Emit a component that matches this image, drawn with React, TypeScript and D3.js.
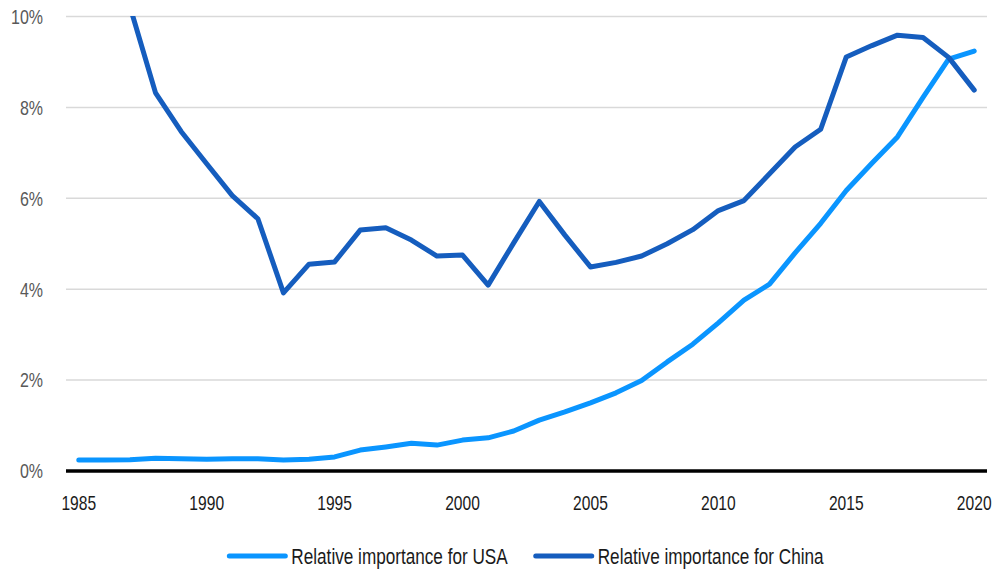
import React, { useEffect, useRef } from "react";
import * as d3 from "d3";

// Years on the horizontal axis
const years: number[] = [
  1985, 1986, 1987, 1988, 1989, 1990, 1991, 1992, 1993, 1994, 1995, 1996,
  1997, 1998, 1999, 2000, 2001, 2002, 2003, 2004, 2005, 2006, 2007, 2008,
  2009, 2010, 2011, 2012, 2013, 2014, 2015, 2016, 2017, 2018, 2019, 2020,
];

// Relative importance for the USA (%)
const usaShare: number[] = [
  0.24, 0.24, 0.25, 0.28, 0.27, 0.26, 0.27, 0.27, 0.24, 0.26, 0.31, 0.46,
  0.53, 0.61, 0.57, 0.68, 0.73, 0.88, 1.12, 1.3, 1.5, 1.72, 1.99, 2.4,
  2.79, 3.26, 3.76, 4.11, 4.8, 5.45, 6.17, 6.77, 7.35, 8.22, 9.06, 9.24,
];

// Relative importance for China (%); early years run above the axis maximum
const chinaShare: number[] = [
  13.9, 12.1, 10.22, 8.32, 7.47, 6.76, 6.06, 5.55, 3.92, 4.55, 4.6, 5.3,
  5.35, 5.08, 4.73, 4.75, 4.09, 5.02, 5.93, 5.19, 4.49, 4.59, 4.73, 5.0,
  5.31, 5.73, 5.95, 6.54, 7.13, 7.52, 9.11, 9.36, 9.59, 9.54, 9.1, 8.38,
];

const yTicks: number[] = [0, 2, 4, 6, 8, 10];
const xTicks: number[] = [1985, 1990, 1995, 2000, 2005, 2010, 2015, 2020];

const seriesNames: string[] = [
  "Relative importance for USA",
  "Relative importance for China",
];
const seriesColors: string[] = ["#0a95ff", "#155dbe"];

const W = 996;
const H = 569;
const FONT = "'Liberation Sans', Arial, sans-serif";
// Horizontal squeeze giving a condensed face
const NARROW = 0.78;

export default function App() {
  const ref = useRef<SVGSVGElement | null>(null);

  useEffect(() => {
    const svg = d3.select(ref.current);
    svg.selectAll("*").remove();

    const left = 66;
    const right = 987;
    const top = 16.5;
    const bottom = 471;

    const x = d3.scalePoint<number>().domain(years).range([left, right]).padding(0.5);
    const y = d3.scaleLinear().domain([0, 10]).range([bottom, top]);

    svg
      .append("defs")
      .append("clipPath")
      .attr("id", "plot-clip")
      .append("rect")
      .attr("x", 0)
      .attr("y", top - 0.5)
      .attr("width", W)
      .attr("height", H);

    // Gridlines
    svg
      .append("g")
      .selectAll("line")
      .data(yTicks.filter((t) => t !== 0))
      .join("line")
      .attr("x1", left)
      .attr("x2", right)
      .attr("y1", (d) => y(d))
      .attr("y2", (d) => y(d))
      .attr("stroke", "#d9d9d9")
      .attr("stroke-width", 1.5);

    // Y tick labels
    svg
      .append("g")
      .selectAll("text")
      .data(yTicks)
      .join("text")
      .attr("transform", (d) => `translate(43,${y(d)}) scale(${NARROW},1)`)
      .attr("dy", "0.36em")
      .attr("text-anchor", "end")
      .attr("font-family", FONT)
      .attr("font-size", 20.5)
      .attr("fill", "#595959")
      .text((d) => `${d}%`);

    // X tick labels
    svg
      .append("g")
      .selectAll("text")
      .data(xTicks)
      .join("text")
      .attr("transform", (d) => `translate(${x(d)},509.5) scale(${NARROW},1)`)
      .attr("text-anchor", "middle")
      .attr("font-family", FONT)
      .attr("font-size", 20)
      .attr("fill", "#1a1a1a")
      .text((d) => String(d));

    // Lines
    const line = d3
      .line<number>()
      .x((_, i) => x(years[i]) as number)
      .y((d) => y(d));

    const lines = svg.append("g").attr("clip-path", "url(#plot-clip)");
    [usaShare, chinaShare].forEach((vals, i) => {
      lines
        .append("path")
        .attr("d", line(vals) as string)
        .attr("fill", "none")
        .attr("stroke", seriesColors[i])
        .attr("stroke-width", 5)
        .attr("stroke-linecap", "round")
        .attr("stroke-linejoin", "round");
    });

    // Zero baseline
    svg
      .append("line")
      .attr("x1", left)
      .attr("x2", right)
      .attr("y1", y(0))
      .attr("y2", y(0))
      .attr("stroke", "#000")
      .attr("stroke-width", 3.5);

    // Legend, centred under the plot
    const legend = svg.append("g");
    const swatch = 56;
    const gap = 6;
    const itemGap = 28;
    const items = seriesNames.map((name, i) => {
      const g = legend.append("g");
      g.append("line")
        .attr("x1", 0)
        .attr("x2", swatch)
        .attr("y1", 0)
        .attr("y2", 0)
        .attr("stroke", seriesColors[i])
        .attr("stroke-width", 5)
        .attr("stroke-linecap", "round");
      const t = g
        .append("text")
        .attr("transform", `translate(${swatch + gap},7.5) scale(${NARROW},1)`)
        .attr("font-family", FONT)
        .attr("font-size", 22)
        .attr("fill", "#1a1a1a")
        .text(name);
      const w = (t.node() as SVGTextElement).getComputedTextLength() * NARROW;
      return { g, width: swatch + gap + w };
    });
    const total = items.reduce((s, it) => s + it.width, 0) + itemGap * (items.length - 1);
    let cx = (left + right) / 2 - total / 2;
    items.forEach((it) => {
      it.g.attr("transform", `translate(${cx},556)`);
      cx += it.width + itemGap;
    });
  }, []);

  return (
    <svg
      ref={ref}
      width={W}
      height={H}
      style={{ position: "absolute", left: 0, top: 0, background: "#fff" }}
    />
  );
}
